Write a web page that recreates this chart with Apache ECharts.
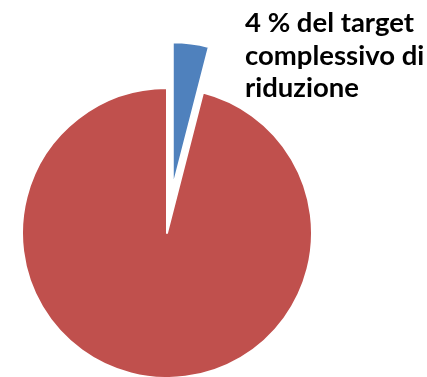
<!DOCTYPE html>
<html>
<head>
<meta charset="utf-8">
<script src="https://cdn.jsdelivr.net/npm/echarts@6/dist/echarts.min.js"></script>
<style>
  html, body { margin: 0; padding: 0; background: #fff; }
  #chart { width: 427px; height: 377px; }
</style>
</head>
<body>
<div id="chart"></div>
<script>
// Share of the overall reduction target
const sliceNames = ['Quota', 'Resto'];
const sliceValues = [4, 96];
const sliceColors = ['#4F81BD', '#C0504D'];
const labelText = '4 % del target\ncomplessivo di\nriduzione';

const chart = echarts.init(document.getElementById('chart'));
chart.setOption({
  animation: false,
  title: {
    text: labelText,
    left: 245,
    top: 7,
    padding: 0,
    textStyle: {
      fontFamily: 'Lato',
      fontWeight: 'bold',
      fontSize: 27.5,
      lineHeight: 32.5,
      color: '#000'
    }
  },
  series: [{
    type: 'pie',
    center: [167, 233],
    radius: [0, 145],
    startAngle: 90,
    clockwise: true,
    selectedMode: 'single',
    selectedOffset: 46,
    label: { show: false },
    labelLine: { show: false },
    emphasis: { disabled: true },
    itemStyle: { borderColor: '#fff', borderWidth: 2 },
    data: sliceNames.map((n, i) => ({
      name: n,
      value: sliceValues[i],
      selected: i === 0,
      itemStyle: { color: sliceColors[i] }
    }))
  }]
});
</script>
</body>
</html>
